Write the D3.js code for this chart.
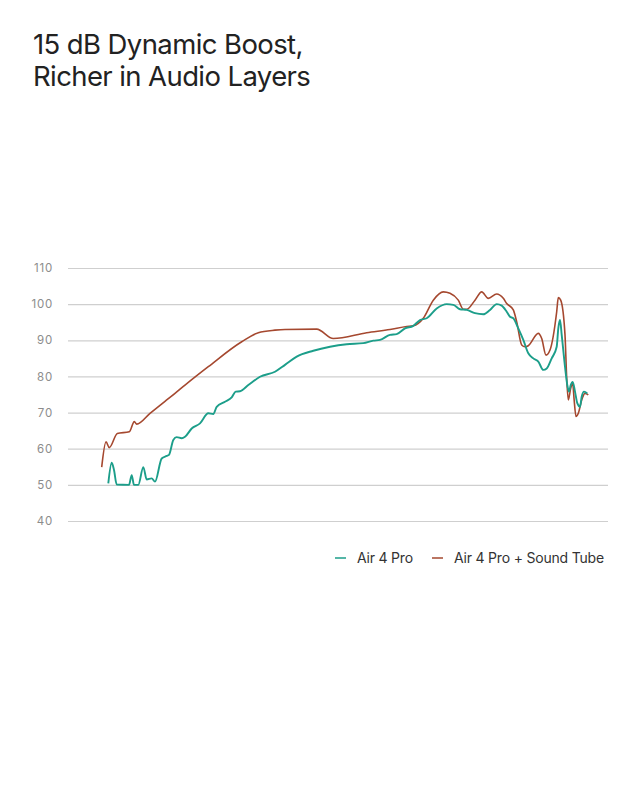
<!DOCTYPE html>
<html><head><meta charset="utf-8">
<script src="https://cdn.jsdelivr.net/npm/d3@7"></script>
<style>
html,body{margin:0;padding:0;background:#fff;}
svg{display:block;}
</style></head>
<body>
<svg id="c" width="640" height="800"></svg>
<script>
const title = ["15 dB Dynamic Boost,", "Richer in Audio Layers"];
const yTicks = [40, 50, 60, 70, 80, 90, 100, 110];
const seriesNames = ["Air 4 Pro", "Air 4 Pro + Sound Tube"];
const seriesColors = ["#1c9e8a", "#a5482f"];

// horizontal position along the frequency axis (0-540), values in dB
const airPos = [40.3,43.7,46,48.7,61,63.7,66,70.3,75.3,78.7,83.7,87,93.7,98.7,101,105.3,108.7,113.7,117,123.7,132,140.3,145.3,148.7,157,163.7,167.7,172,180.3,192,207,217,228.7,245.3,262,278.7,295.3,305.3,312,322,328.7,337,345.3,352,358.7,368.7,378.7,385.3,392,398.7,407,415.3,422,428.7,433.7,438.7,442,445.3,450.3,455.3,460.3,465.3,470.3,475.3,478.7,483.7,488.7,490.3,492,493.7,497,499.3,501,502.7,504.7,507,509.3,512,513.7,516,519.3];
const airVal = [50.4,56.1,54.1,50.1,50,52.7,50,50,54.9,51.5,51.8,50.9,57.3,58,58.3,62.4,63.2,62.9,63.3,65.6,67,69.8,69.6,71.6,73,74.2,75.8,75.9,77.6,79.9,81.3,83.2,85.5,87.1,88.2,88.9,89.2,89.9,90.1,91.5,91.7,93.3,94,95.6,96.1,98.8,100,99.8,98.6,98.4,97.5,97.2,98.4,100,99.6,97.9,96.5,96.1,93.3,90.1,86.4,85,84.1,81.8,82.2,85,88.2,93.3,95.6,91.5,82.7,77.6,75.8,77.6,78.5,75.8,72.6,71.6,74.4,75.8,75.3];

const tubePos = [33.7,38,41.3,49.3,61.3,66.3,68.7,82,97,107,117,140.3,173.7,190.3,207,217,248.7,265.3,298.7,322,338.7,345.3,355.3,365.3,375.3,382,390.3,395.3,398.7,407,413.7,420.3,428.7,435.3,438.7,445.3,448.7,453.7,457,460.3,470.3,473.7,478,482,488.7,490.3,492.7,497,498.7,500.3,502.7,504.7,506,508,510.3,513.7,517,520.3];
const tubeVal = [54.9,61.9,60.3,64.2,64.7,67.5,66.8,69.8,73.1,75.3,77.6,82.7,89.6,92.1,92.8,93,93.1,90.5,92.1,93,93.8,94,96.1,101.1,103.4,103,101.1,98.6,98.6,101.1,103.4,101.6,102.8,101.6,100.2,98.4,95.1,88.7,88.2,88.5,91.9,90.5,85.9,87.3,97.9,101.8,101.1,91.5,79.5,73.5,76.7,78.1,74,68.9,69.8,73.5,75.3,74.9];

const svg = d3.select("#c");
const margin = {left: 68, right: 32, top: 268, bottom: 279};
const W = 640, H = 800;

// title
svg.append("g").selectAll("text").data(title).join("text")
  .attr("x", 33).attr("y", (d, i) => 54 + i * 31.5)
  .attr("font-family", "Inter, 'Noto Sans', sans-serif")
  .attr("font-size", 27.5).attr("letter-spacing", -0.6)
  .attr("fill", "#222").text(d => d);

const x = d3.scaleLinear().domain([0, 540]).range([margin.left, W - margin.right]);
const y = d3.scaleLinear().domain([40, 110]).range([H - margin.bottom, margin.top]);

// grid + y labels
const gy = svg.append("g").attr("transform", `translate(${margin.left},0)`)
  .call(d3.axisLeft(y).tickValues(yTicks).tickSize(-(W - margin.left - margin.right)).tickPadding(15));
gy.select(".domain").remove();
gy.selectAll(".tick line").attr("stroke", "#cfcfcf").attr("stroke-width", 1.2);
gy.selectAll(".tick text").attr("fill", "#8c8c8c").attr("font-size", 11.5)
  .attr("font-family", "Inter, 'Noto Sans', sans-serif").attr("letter-spacing", 0.8);

const line = d3.line().x(d => x(d[0])).y(d => y(d[1])).curve(d3.curveMonotoneX);

const airData = airPos.map((p, i) => [p, airVal[i]]);
const tubeData = tubePos.map((p, i) => [p, tubeVal[i]]);

svg.append("path").datum(tubeData).attr("d", line).attr("fill", "none")
  .attr("stroke", seriesColors[1]).attr("stroke-width", 1.6);
svg.append("path").datum(airData).attr("d", line).attr("fill", "none")
  .attr("stroke", seriesColors[0]).attr("stroke-width", 1.9);

// legend
const legendX = [335, 432];
const lg = svg.append("g").attr("font-family", "Inter, 'Noto Sans', sans-serif");
seriesNames.forEach((n, i) => {
  lg.append("line").attr("x1", legendX[i]).attr("x2", legendX[i] + 11)
    .attr("y1", 558).attr("y2", 558).attr("stroke", seriesColors[i]).attr("stroke-width", 1.5);
  lg.append("text").attr("x", legendX[i] + 22).attr("y", 563)
    .attr("font-size", 14).attr("fill", "#333").attr("letter-spacing", -0.2).text(n);
});
</script>
</body></html>
